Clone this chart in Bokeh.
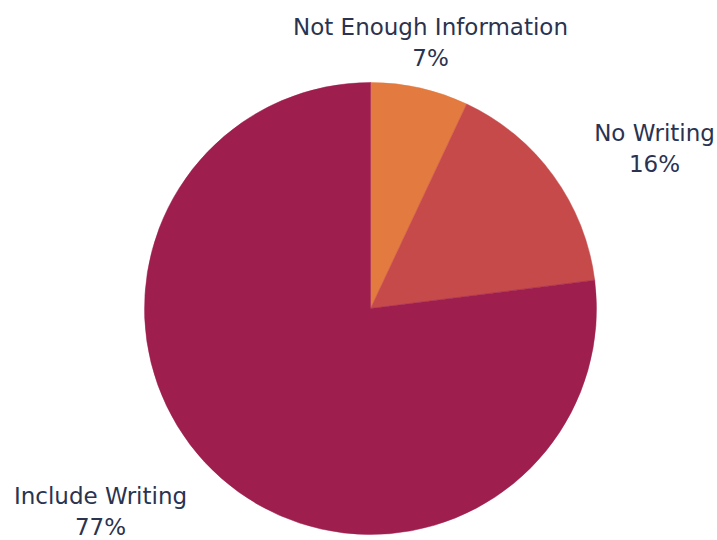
import math
from bokeh.plotting import figure
from bokeh.models import Range1d, ColumnDataSource
from bokeh.core.properties import value
from bokeh.embed import file_html
from bokeh.resources import INLINE

# ---- data ----
categories = ["Not Enough Information", "No Writing", "Include Writing"]
shares = [7, 16, 77]
colors = ["#E37A3F", "#C64A4A", "#9E1F4E"]

# ---- layout (image pixels, y measured downward) ----
W, H = 717, 540
cx_img, cy_img, radius = 370, 308, 226
# label anchors: (x centre, y of first line)
label_pos = [(430, 26), (654, 132), (100, 495)]
line_gap = 31
FONT = "DejaVu Sans"
TEXT_COLOR = "#2A3350"

def py(y_img):
    # image y (down) -> data y (up)
    return H - y_img

p = figure(width=W, height=H, output_backend="svg", toolbar_location=None,
           x_range=Range1d(0, W), y_range=Range1d(0, H),
           min_border=0)
p.axis.visible = False
p.grid.visible = False
p.outline_line_color = None
p.background_fill_color = "white"

total = float(sum(shares))
starts, ends = [], []
acc = 0.0
for s in shares:
    a0 = math.pi / 2 - 2 * math.pi * acc / total
    acc += s
    a1 = math.pi / 2 - 2 * math.pi * acc / total
    starts.append(a0)
    ends.append(a1)

src = ColumnDataSource(dict(start=starts, end=ends, color=colors,
                            x=[cx_img] * 3, y=[py(cy_img)] * 3))
p.wedge(x="x", y="y", radius=radius, start_angle="start", end_angle="end",
        direction="clock", fill_color="color", line_color="color",
        line_width=0.5, source=src)

lx = [pos[0] for pos in label_pos]
ly1 = [py(pos[1]) for pos in label_pos]
ly2 = [py(pos[1] + line_gap) for pos in label_pos]
pct = [f"{s}%" for s in shares]
lsrc = ColumnDataSource(dict(x=lx, y1=ly1, y2=ly2, name=categories, pct=pct))
for ycol, tcol in (("y1", "name"), ("y2", "pct")):
    p.text(x="x", y=ycol, text=tcol, source=lsrc, text_align="center",
           text_baseline="alphabetic", text_font=value(FONT),
           text_font_size="23px", text_color=TEXT_COLOR, text_font_style="normal")

open("out.html", "w").write(file_html(p, INLINE))
